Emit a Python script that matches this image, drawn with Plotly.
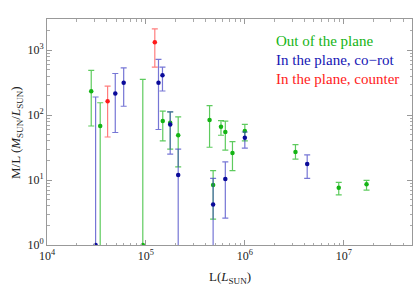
import plotly.graph_objects as go

# Out of the plane (green)
g_x = [2.8e4, 3.45e4, 9.3e4, 1.48e5, 1.76e5, 2.12e5, 4.4e5, 4.78e5, 5.74e5, 6.35e5, 7.5e5, 1.0e6, 3.25e6, 8.9e6, 1.7e7]
g_y = [234, 68, 1, 81, 76, 49, 84, 8.4, 66, 55, 26, 57, 27, 7.6, 8.6]
g_hi = [490, 155, 355, 115, 112, 94, 140, 14, 82, 81, 39, 72, 35, 9.2, 9.9]
g_lo = [68, 0.05, 0.05, 40, 30, 16, 32, 2.5, 49, 29, 14, 40, 21, 5.9, 7.0]

# In the plane, co-rot (blue)
b_x = [3.1e4, 4.9e4, 5.96e4, 1.34e5, 1.47e5, 1.76e5, 2.12e5, 4.78e5, 6.35e5, 1.0e6, 4.27e6]
b_y = [1, 215, 315, 315, 410, 72, 12, 4.2, 10.4, 45, 17.6]
b_hi = [190, 437, 535, 720, 550, 112, 30, 10.6, 19, 55, 24.5]
b_lo = [0.05, 54, 137, 60, 235, 25, 0.05, 0.05, 2.6, 31, 10.6]

# In the plane, counter (red)
r_x = [4.1e4, 1.23e5]
r_y = [164, 1320]
r_hi = [280, 2130]
r_lo = [46, 550]

# tick labels
x_tickvals = [1e4, 1e5, 1e6, 1e7]
x_ticktext = ["10<sup>4</sup>", "10<sup>5</sup>", "10<sup>6</sup>", "10<sup>7</sup>"]
y_tickvals = [1, 10, 100, 1000]
y_ticktext = ["10<sup>0</sup>", "10<sup>1</sup>", "10<sup>2</sup>", "10<sup>3</sup>"]

SERIF = "Liberation Serif, Times New Roman, DejaVu Serif, serif"

def series(x, y, hi, lo, mcolor, ecolor):
    return go.Scatter(
        x=x, y=y, mode="markers",
        marker=dict(color=mcolor, size=4.5),
        error_y=dict(type="data", symmetric=False,
                     array=[h - v for h, v in zip(hi, y)],
                     arrayminus=[v - l for v, l in zip(y, lo)],
                     color=ecolor, thickness=1.2, width=3),
        showlegend=False, cliponaxis=True,
    )

fig = go.Figure()
fig.add_trace(series(g_x, g_y, g_hi, g_lo, "#14b414", "rgba(40,185,40,0.75)"))
fig.add_trace(series(b_x, b_y, b_hi, b_lo, "#0a0a9a", "rgba(60,60,195,0.7)"))
fig.add_trace(series(r_x, r_y, r_hi, r_lo, "#ff1a1a", "rgba(255,70,70,0.7)"))

axis_common = dict(
    type="log", showgrid=False, zeroline=False, automargin=False,
    showline=True, linecolor="#999999", linewidth=1, mirror="allticks",
    ticks="inside", ticklen=5, tickcolor="#999999", tickmode="array",
    minor=dict(ticks="inside", ticklen=2.5, tickcolor="#aaaaaa", dtick="D1", showgrid=False),
    tickfont=dict(family=SERIF, size=12, color="#222222"),
)

fig.update_xaxes(range=[4, 7.69], tickvals=x_tickvals, ticktext=x_ticktext, **axis_common)
fig.update_yaxes(range=[0, 3.48], tickvals=y_tickvals, ticktext=y_ticktext, **axis_common)

# axis titles
fig.add_annotation(text="L(<i>L</i><sub>SUN</sub>)", x=0.5, y=-0.142, xref="paper", yref="paper",
                   xanchor="center", yanchor="middle", showarrow=False,
                   font=dict(family=SERIF, size=13, color="#222222"))
fig.add_annotation(text="M/L (<i>M</i><sub>SUN</sub>/<i>L</i><sub>SUN</sub>)", x=-0.085, y=0.5,
                   xref="paper", yref="paper", xanchor="center", yanchor="middle",
                   textangle=-90, showarrow=False,
                   font=dict(family=SERIF, size=13, color="#222222"))

legend_items = [("Out of the plane", "#14b414", 0.903),
                ("In the plane, co\u2212rot", "#1414b4", 0.819),
                ("In the plane, counter", "#ff1a1a", 0.735)]
for txt, col, yy in legend_items:
    fig.add_annotation(text=txt, x=0.622, y=yy, xref="paper", yref="paper",
                       xanchor="left", yanchor="middle", showarrow=False,
                       font=dict(family=SERIF, size=15, color=col))

fig.update_layout(width=415, height=290, margin=dict(l=47, r=3, t=19, b=45),
                  plot_bgcolor="white", paper_bgcolor="white")

fig.write_html("out.html", config={"displayModeBar": False},
               post_script="document.body.style.margin='0';document.body.style.overflow='hidden';")
